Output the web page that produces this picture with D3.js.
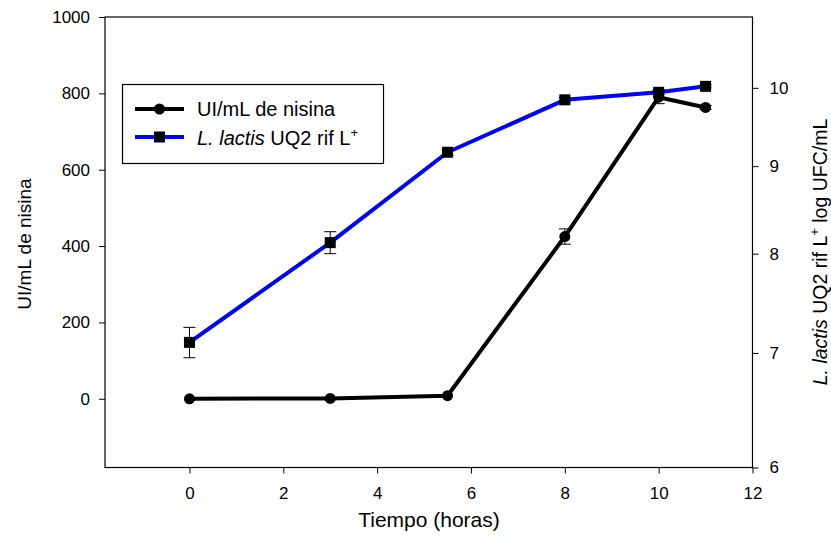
<!DOCTYPE html>
<html>
<head>
<meta charset="utf-8">
<script src="https://cdn.jsdelivr.net/npm/d3@7"></script>
<style>
  body { margin: 0; background: #fff; }
  svg { font-family: "Liberation Sans", Arial, sans-serif; }
</style>
</head>
<body>
<svg id="chart" width="831" height="542"></svg>
<script>
// Sampling times (hours)
const hours = [0, 3, 5.5, 8, 10, 11];
// Nisin activity (UI/mL) and its error
const nisina = [0, 1, 8, 425, 790, 763];
const nisinaErr = [0, 0, 0, 20, 17, 5];
// L. lactis UQ2 rif L+ counts (log UFC/mL) and error
const lactis = [7.10, 8.12, 9.17, 9.84, 9.94, 10.02];
const lactisErr = [0.145, 0.12, 0.04, 0.03, 0.03, 0.02];

const xTicks = [0, 2, 4, 6, 8, 10, 12];
const yLeftTicks = [0, 200, 400, 600, 800, 1000];
const yRightTicks = [6, 7, 8, 9, 10];

const svg = d3.select("#chart");
const L = 105, R = 752.5, T = 17, B = 467.5;

const x = d3.scaleLinear().domain([-1.8, 12]).range([L, R]);
const yL = d3.scaleLinear().domain([-180, 1000]).range([B, T]);
const yR = d3.scaleLog().domain([6, 11]).range([B, T]);

// frame
svg.append("rect").attr("x", L).attr("y", T).attr("width", R - L).attr("height", B - T)
  .attr("fill", "none").attr("stroke", "#000").attr("stroke-width", 1.2);

function styleAxis(g) {
  g.select(".domain").remove();
  g.selectAll(".tick line").attr("stroke", "#000").attr("stroke-width", 1);
  g.selectAll(".tick text").attr("fill", "#000").attr("font-size", 17);
}

svg.append("g").attr("transform", `translate(0,${B})`)
  .call(d3.axisBottom(x).tickValues(xTicks).tickSize(6).tickPadding(13).tickFormat(d3.format("d")))
  .call(styleAxis);

svg.append("g").attr("transform", `translate(${L},0)`)
  .call(d3.axisLeft(yL).tickValues(yLeftTicks).tickSize(6).tickPadding(9).tickFormat(d3.format("d")))
  .call(styleAxis);

svg.append("g").attr("transform", `translate(${R},0)`)
  .call(d3.axisRight(yR).tickValues(yRightTicks).tickSize(6).tickPadding(11).tickFormat(d3.format("d")))
  .call(styleAxis);

// axis titles
svg.append("text").attr("x", 429).attr("y", 527).attr("text-anchor", "middle")
  .attr("font-size", 21).text("Tiempo (horas)");

svg.append("text").attr("transform", "translate(31,244) rotate(-90)")
  .attr("text-anchor", "middle").attr("font-size", 19).text("UI/mL de nisina");

const rt = svg.append("text").attr("transform", "translate(827,252) rotate(-90)")
  .attr("text-anchor", "middle").attr("font-size", 19.5);
rt.append("tspan").attr("font-style", "italic").text("L. lactis");
rt.append("tspan").text(" UQ2 rif L");
rt.append("tspan").attr("font-size", 13).attr("dy", -8).text("+");
rt.append("tspan").attr("dy", 8).text(" log UFC/mL");

const pts = hours.map((h, i) => ({ h, n: nisina[i], ne: nisinaErr[i], l: lactis[i], le: lactisErr[i] }));

// nisin series
svg.append("path").datum(pts)
  .attr("d", d3.line().x(d => x(d.h)).y(d => yL(d.n)))
  .attr("fill", "none").attr("stroke", "#000").attr("stroke-width", 4).attr("stroke-linejoin", "round");
const eN = svg.append("g").attr("stroke", "#000").attr("stroke-width", 1);
pts.filter(d => d.ne > 0).forEach(d => {
  const cx = x(d.h), y1 = yL(d.n + d.ne), y2 = yL(d.n - d.ne);
  eN.append("line").attr("x1", cx).attr("x2", cx).attr("y1", y1).attr("y2", y2);
  eN.append("line").attr("x1", cx - 6).attr("x2", cx + 6).attr("y1", y1).attr("y2", y1);
  eN.append("line").attr("x1", cx - 6).attr("x2", cx + 6).attr("y1", y2).attr("y2", y2);
});
svg.append("g").selectAll("circle").data(pts).join("circle")
  .attr("cx", d => x(d.h)).attr("cy", d => yL(d.n)).attr("r", 5.5).attr("fill", "#000");

// L. lactis series
svg.append("path").datum(pts)
  .attr("d", d3.line().x(d => x(d.h)).y(d => yR(d.l)))
  .attr("fill", "none").attr("stroke", "#0000ff").attr("stroke-width", 4).attr("stroke-linejoin", "round");
const eL = svg.append("g").attr("stroke", "#000").attr("stroke-width", 1);
pts.forEach(d => {
  const cx = x(d.h), y1 = yR(d.l + d.le), y2 = yR(d.l - d.le);
  eL.append("line").attr("x1", cx).attr("x2", cx).attr("y1", y1).attr("y2", y2);
  eL.append("line").attr("x1", cx - 6).attr("x2", cx + 6).attr("y1", y1).attr("y2", y1);
  eL.append("line").attr("x1", cx - 6).attr("x2", cx + 6).attr("y1", y2).attr("y2", y2);
});
svg.append("g").selectAll("rect").data(pts).join("rect")
  .attr("x", d => x(d.h) - 5.5).attr("y", d => yR(d.l) - 5.5)
  .attr("width", 11).attr("height", 11).attr("fill", "#000");

// legend
const lg = svg.append("g");
lg.append("rect").attr("x", 122.5).attr("y", 84.5).attr("width", 261).attr("height", 79)
  .attr("fill", "#fff").attr("stroke", "#000").attr("stroke-width", 1.2);
lg.append("line").attr("x1", 135).attr("x2", 184).attr("y1", 109).attr("y2", 109)
  .attr("stroke", "#000").attr("stroke-width", 4);
lg.append("circle").attr("cx", 159.5).attr("cy", 109).attr("r", 5.5).attr("fill", "#000");
lg.append("text").attr("x", 197).attr("y", 116).attr("font-size", 20).text("UI/mL de nisina");
lg.append("line").attr("x1", 135).attr("x2", 184).attr("y1", 137).attr("y2", 137)
  .attr("stroke", "#0000ff").attr("stroke-width", 4);
lg.append("rect").attr("x", 154).attr("y", 131.5).attr("width", 11).attr("height", 11).attr("fill", "#000");
const lt = lg.append("text").attr("x", 197).attr("y", 145).attr("font-size", 20);
lt.append("tspan").attr("font-style", "italic").text("L. lactis");
lt.append("tspan").text(" UQ2 rif L");
lt.append("tspan").attr("font-size", 13).attr("dy", -8).text("+");
</script>
</body>
</html>
